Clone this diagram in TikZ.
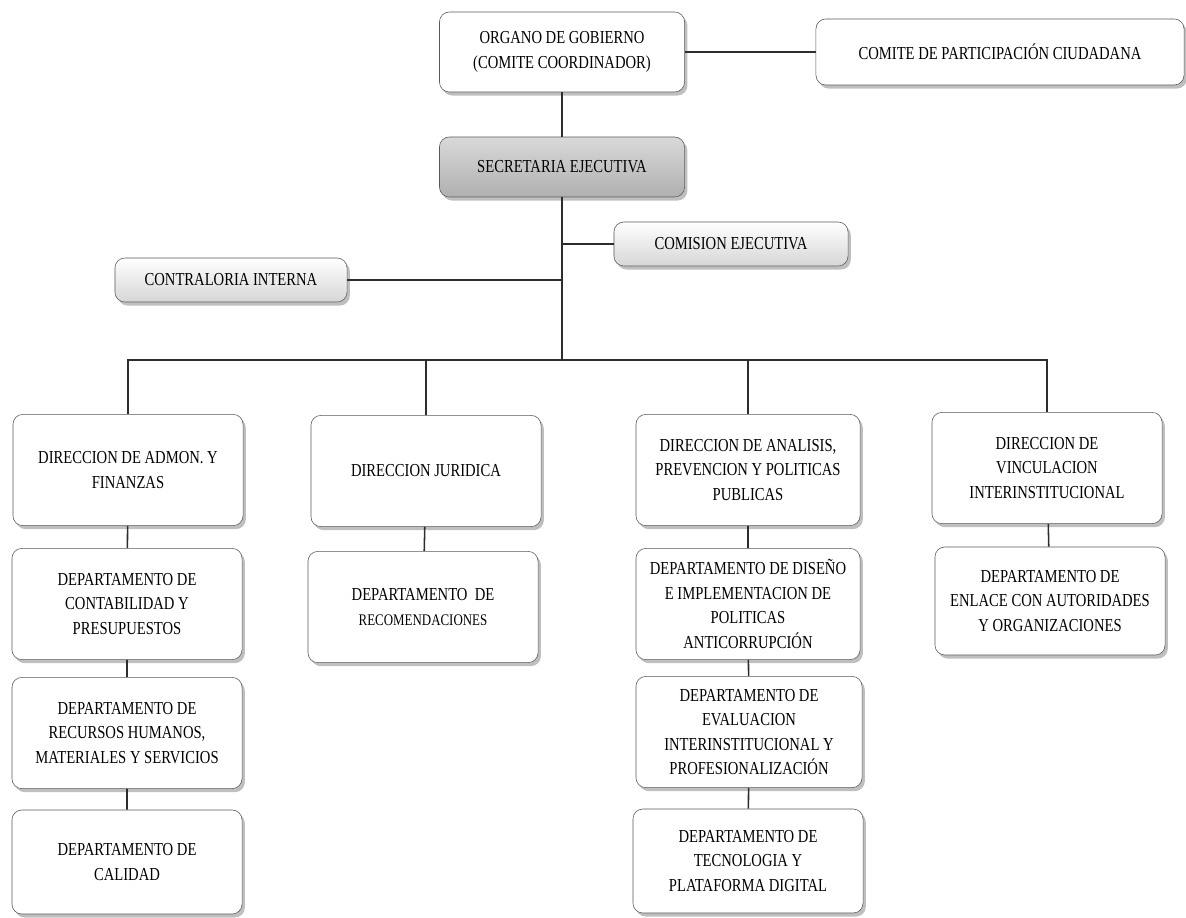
\documentclass[tikz,border=0pt]{standalone}
\usepackage{fontspec}
\setmainfont{Liberation Serif}[FakeStretch=0.8]
\usetikzlibrary{shapes,shadows,positioning}

\tikzset{
  caja/.style={draw=gray!70!black, fill=white, rounded corners=7pt, align=center,
    inner sep=2pt, font=\fontsize{13}{17.5}\selectfont,
    drop shadow={shadow xshift=2pt, shadow yshift=-2.5pt, opacity=0.5}},
  depto/.style={caja, minimum width=5.75cm, minimum height=2.78cm},
  cajagris/.style={caja, top color=gray!30, bottom color=gray!62},
  cajaclara/.style={caja, top color=white, bottom color=gray!32},
  linea/.style={draw=gray!35!black, line width=1.1pt},
}

\begin{document}
\begin{tikzpicture}[x=0.025cm, y=-0.025cm]
    \useasboundingbox (0,0) rectangle (1186,917);

    % Organo de gobierno y comite
    \node[caja, minimum width=6.125cm, minimum height=2cm] (organo) at (562,52)
        {ORGANO DE GOBIERNO\\(COMITE COORDINADOR)};
    \node[caja, minimum width=9.2cm, minimum height=1.65cm] (comite) at (1000,52)
        {COMITE DE PARTICIPACIÓN CIUDADANA};
    \node[cajagris, minimum width=6.125cm, minimum height=1.5cm] (secre) at (562,167)
        {SECRETARIA EJECUTIVA};
    \node[cajaclara, minimum width=5.85cm, minimum height=1.1cm] (comision) at (731,244)
        {COMISION EJECUTIVA};
    \node[cajaclara, minimum width=5.8cm, minimum height=1.1cm] (contra) at (231,280)
        {CONTRALORIA INTERNA};
    \coordinate (bus) at (562,360);

    % Direcciones
    \node[depto] (admon) at (128,470) {DIRECCION DE ADMON. Y\\FINANZAS};
    \node[depto] (juridica) at (426,471) {DIRECCION JURIDICA};
    \node[depto, minimum width=5.6cm] (analisis) at (748,470)
        {DIRECCION DE ANALISIS,\\PREVENCION Y POLITICAS\\PUBLICAS};
    \node[depto] (vincula) at (1047,468)
        {DIRECCION DE\\VINCULACION\\INTERINSTITUCIONAL};

    % Departamentos
    \node[depto] (contab) at (127,604) {DEPARTAMENTO DE\\CONTABILIDAD Y\\PRESUPUESTOS};
    \node[depto] (rrhh) at (127,733)
        {DEPARTAMENTO DE\\RECURSOS HUMANOS,\\MATERIALES Y SERVICIOS};
    \node[depto, minimum height=2.6cm] (calidad) at (127,862) {DEPARTAMENTO DE\\CALIDAD};
    \node[depto] (recom) at (423,607)
        {DEPARTAMENTO~ DE\\{\fontsize{11.5}{14}\selectfont RECOMENDACIONES}};
    \node[depto, minimum width=5.6cm] (diseno) at (748,604)
        {DEPARTAMENTO DE DISEÑO\\E IMPLEMENTACION DE\\POLITICAS\\ANTICORRUPCIÓN};
    \node[depto, minimum width=5.65cm] (evalua) at (749,732)
        {DEPARTAMENTO DE\\EVALUACION\\INTERINSTITUCIONAL Y\\PROFESIONALIZACIÓN};
    \node[depto, minimum height=2.6cm] (tecno) at (748,861)
        {DEPARTAMENTO DE\\TECNOLOGIA Y\\PLATAFORMA DIGITAL};
    \node[depto, minimum height=2.7cm] (enlace) at (1050,601)
        {DEPARTAMENTO DE\\ENLACE CON AUTORIDADES\\Y ORGANIZACIONES};

    % Conectores
    \draw[linea] (organo.east) -- (comite.west);
    \draw[linea] (organo) -- (secre);
    \draw[linea] (secre) -- (bus);
    \draw[linea] (comision.west) -- (comision.west -| bus);
    \draw[linea] (contra.east) -- (contra.east -| bus);
    \draw[linea] (admon.north) |- (bus) -| (vincula.north);
    \draw[linea] (juridica.north) -- (juridica.north |- bus);
    \draw[linea] (analisis.north) -- (analisis.north |- bus);
    \draw[linea] (admon) -- (contab) -- (rrhh) -- (calidad);
    \draw[linea] (juridica) -- (recom);
    \draw[linea] (analisis) -- (diseno) -- (evalua) -- (tecno);
    \draw[linea] (vincula) -- (enlace);
\end{tikzpicture}
\end{document}
